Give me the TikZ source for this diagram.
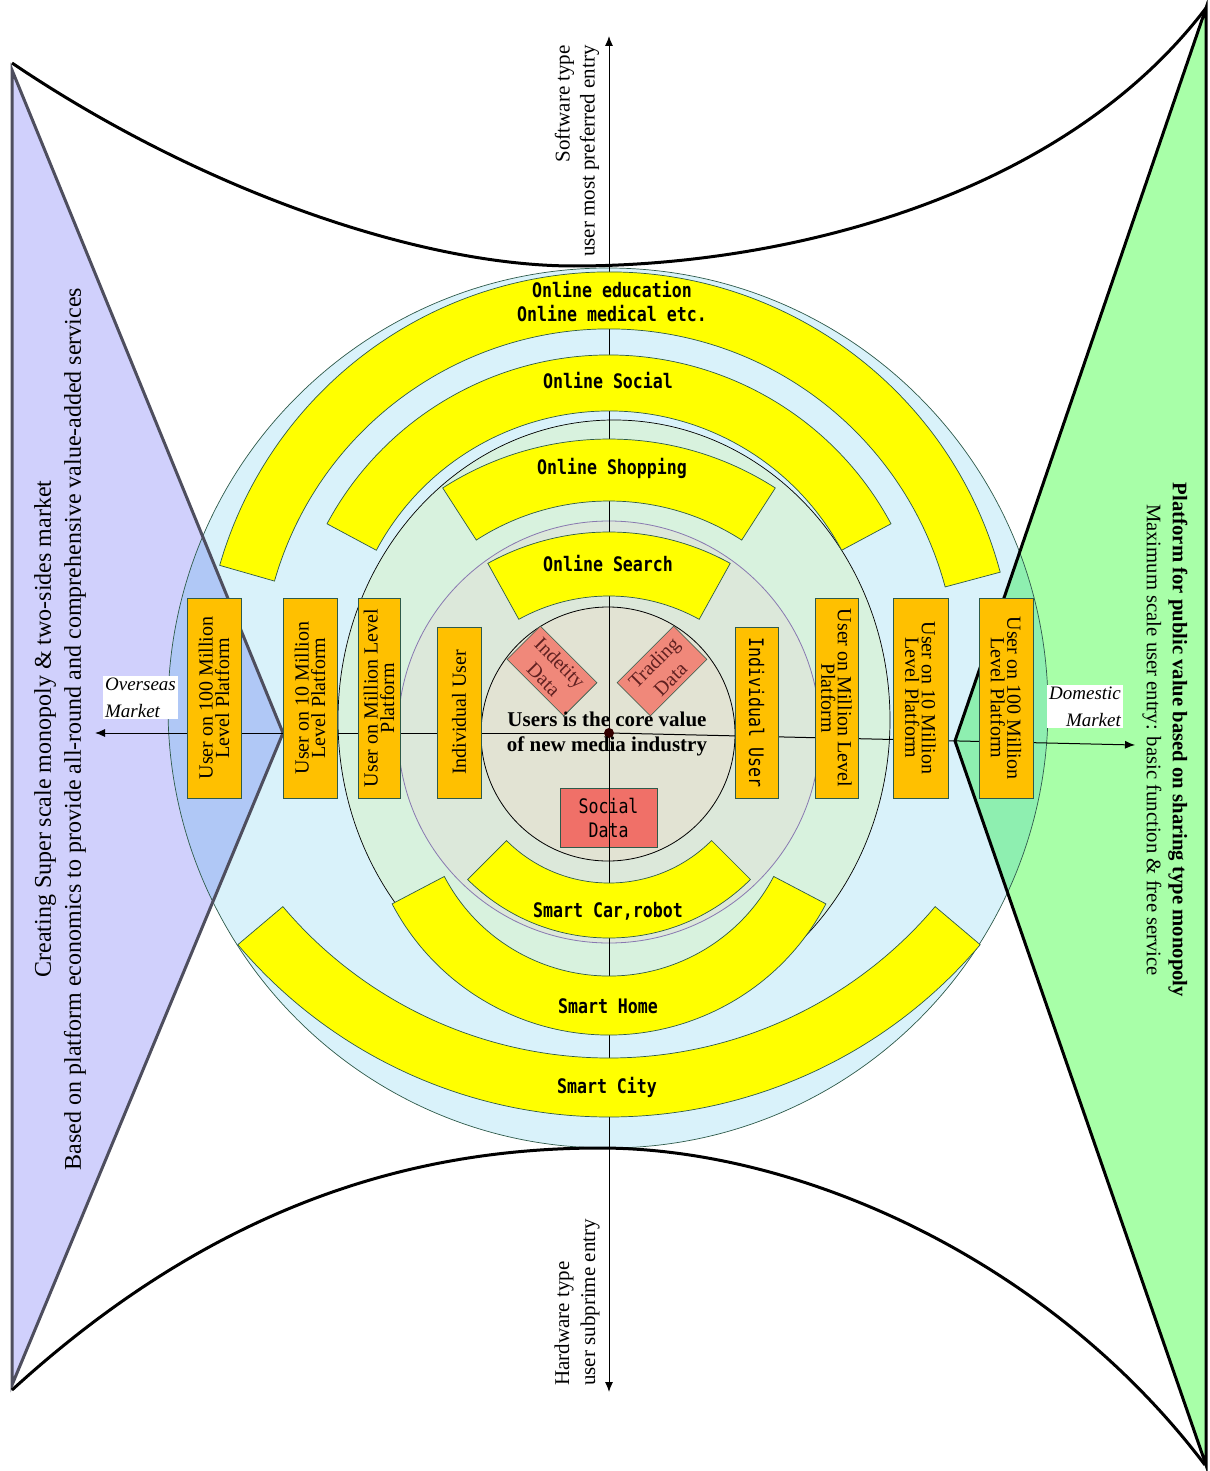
\documentclass[tikz,border=0pt]{standalone}
\usepackage{fontspec}
\setmainfont{Liberation Serif}
\newfontfamily\fontFascia{DejaVu Sans Mono}[FakeStretch=0.83]
\usetikzlibrary{arrows.meta, calc}
\definecolor{celeste}{HTML}{D9F2FA}
\definecolor{verdePallido}{HTML}{D8F2DE}
\definecolor{grigioVerde}{HTML}{DCE8DA}
\definecolor{beige}{HTML}{E2E3D3}
\definecolor{giallo}{RGB}{255,255,0}
\definecolor{arancio}{HTML}{FFC000}
\definecolor{rossoSocial}{HTML}{F07068}
\definecolor{salmone}{HTML}{F0887A}
\definecolor{lilla}{HTML}{D0D0FC}
\definecolor{verdino}{HTML}{A8FFA8}
\definecolor{lillaSopra}{HTML}{B0C8F6}
\definecolor{verdinoSopra}{HTML}{8EEFB0}
\definecolor{viola}{HTML}{8878B0}
\definecolor{bordo}{HTML}{2E5A4A}
\definecolor{bordoSx}{HTML}{4E4E5E}
\definecolor{testoDato}{HTML}{602020}
\newcommand{\fascia}[6]{
\filldraw[fascia] ($(#1,#2)+(#3:#5)$) arc[start angle = #3, end angle = #4, radius = #5] -- ($(#1,#2)+(#4:#6)$) arc[start angle = #4, end angle = #3, radius = #6] -- cycle;
}

\begin{document}
\begin{tikzpicture}[x = 1pt, y = -1pt,
    fascia/.style = {draw = bordo, fill = giallo, line width = 0.7pt},
    scatola/.style = {draw = bordo, fill = arancio, line width = 0.7pt, inner sep = 0pt, align = center, font = \fontsize{20}{16.5}\selectfont},
    dato/.style = {draw = bordo, fill = salmone, line width = 0.6pt, inner sep = 0pt, align = center, text = testoDato, minimum width = 80pt, minimum height = 47pt, font = \fontsize{20}{23}\selectfont},
    scritta/.style = {font = \fontFascia\bfseries\fontsize{20}{24}\selectfont, align = center},
    mercato/.style = {fill = white, inner sep = 2pt, font = \itshape\fontsize{19}{27}\selectfont},
    asse/.style = {line width = 1pt, -{Latex[length = 10pt, width = 8pt]}},
    curva/.style = {line width = 3pt}]
    \useasboundingbox (0,0) rectangle (1209,1471);
    % Punti
    \coordinate (o) at (609,733);
    \coordinate (nord) at (609,36);
    \coordinate (sud) at (609,1392);
    \coordinate (ovest) at (95,733);
    \coordinate (est) at (1135,745);
    % Triangoli
    \fill[lilla] (12,70) -- (283,733) -- (12,1385) -- cycle;
    \fill[verdino] (1206,8) -- (955,741) -- (1206,1465) -- cycle;
    % Cerchi
    \fill[celeste] (608,708) circle (440);
    \begin{scope}
        \clip (608,708) circle (440);
        \fill[lillaSopra] (12,70) -- (283,733) -- (12,1385) -- cycle;
        \fill[verdinoSopra] (1206,8) -- (955,741) -- (1206,1465) -- cycle;
    \end{scope}
    \draw[bordo, line width = 0.7pt] (608,708) circle (440);
    \filldraw[fill = verdePallido, draw = black, line width = 0.7pt] (614,720) ellipse [x radius = 276, y radius = 300];
    \filldraw[fill = grigioVerde, draw = viola, line width = 0.8pt] (609,732) circle (211);
    \filldraw[fill = beige, draw = black, line width = 0.8pt] (608,734) circle (127);
    % Bordi dei triangoli e curve
    \draw[bordoSx, line width = 3pt] (12,70) -- (283,733) -- (12,1385) -- cycle;
    \draw[black, line width = 3pt] (1206,8) -- (955,741) -- (1206,1465) -- cycle;
    \draw[curva] (12,63) .. controls (200,190) and (420,266) .. (574,266) .. controls (780,266) and (1060,200) .. (1206,8);
    \draw[curva] (12,1390) .. controls (220,1200) and (420,1148) .. (600,1148) .. controls (800,1148) and (1050,1260) .. (1205,1465);
    % Dati
    \node[dato, rotate = -45] (identita) at (552,671) {Indetity\\Data};
    \node[dato, rotate = 45] (scambi) at (662,671) {Trading\\Data};
    \node[draw = bordo, fill = rossoSocial, line width = 0.6pt, minimum width = 97pt, minimum height = 59pt, inner sep = 0pt, align = center, font = \fontFascia\fontsize{20}{24}\selectfont] (sociale) at (608.5,817.5) {Social\\Data};
    % Assi
    \draw[asse] (o) -- (nord);
    \draw[asse] (o) -- (sud);
    \draw[asse] (o) -- (ovest);
    \draw[asse] (o) -- (est);
    % Fasce gialle
    \fascia{609}{677}{-15}{-164}{405}{348}
    \fascia{609}{675}{-28.2}{-151.8}{320}{264}
    \fascia{609}{746}{-57.2}{-122.8}{307}{245}
    \fascia{609}{782}{-61}{-119}{250}{186}
    \fascia{609}{631}{40.2}{139.8}{486}{427}
    \fascia{609}{790}{27.7}{152.3}{245}{186}
    \fascia{609}{738}{45}{135}{200}{145}
    \node[scritta] (educazione) at (612,302) {Online education\\Online medical etc.};
    \node[scritta] (social) at (608,381) {Online Social};
    \node[scritta] (shopping) at (612,468) {Online Shopping};
    \node[scritta] (ricerca) at (608,564) {Online Search};
    \node[scritta] (auto) at (608,911) {Smart Car,robot};
    \node[scritta] (casa) at (608,1006) {Smart Home};
    \node[scritta] (citta) at (607,1087) {Smart City};
    % Utenti
    \node[scatola, rotate = 90, minimum width = 200pt, minimum height = 54pt] (centoSx) at (214,698) {User on 100 Million\\Level Platform};
    \node[scatola, rotate = 90, minimum width = 200pt, minimum height = 54pt] (dieciSx) at (310,698) {User on 10 Million\\Level Platform};
    \node[scatola, rotate = 90, minimum width = 200pt, minimum height = 42pt] (milioneSx) at (379,698) {User on Million Level\\Platform};
    \node[scatola, rotate = 90, minimum width = 171pt, minimum height = 44pt] (singoloSx) at (459,712.5) {Individual User};
    \node[scatola, rotate = -90, minimum width = 171pt, minimum height = 43pt, font = \fontFascia\fontsize{20}{24}\selectfont] (singoloDx) at (756.5,712.5) {Individual User};
    \node[scatola, rotate = -90, minimum width = 200pt, minimum height = 43pt] (milioneDx) at (836.5,698) {User on Million Level\\Platform};
    \node[scatola, rotate = -90, minimum width = 200pt, minimum height = 55pt] (dieciDx) at (920.5,698) {User on 10 Million\\Level Platform};
    \node[scatola, rotate = -90, minimum width = 200pt, minimum height = 54pt] (centoDx) at (1006,698) {User on 100 Million\\Level Platform};
    % Centro
    \fill[black!80!red] (o) circle (5);
    \node[align = center, font = \bfseries\fontsize{21}{25}\selectfont] (nucleo) at (607,733.5) {Users is the core value\\of new media industry};
    % Mercati
    \node[mercato, align = left] (estero) at (140.5,697.5) {Overseas\\Market};
    \node[mercato, align = right] (interno) at (1085,706.5) {Domestic\\Market};
    % Testi sugli assi
    \node[rotate = 90, anchor = east, align = right, inner sep = 0pt, font = \fontsize{21}{25}\selectfont] (software) at (577,45) {Software type\\user most preferred entry};
    \node[rotate = 90, anchor = west, align = left, inner sep = 0pt, font = \fontsize{21}{26}\selectfont] (hardware) at (577,1386) {Hardware type\\user subprime entry};
    % Testi laterali
    \node[rotate = 90, align = center, font = \fontsize{24}{30}\selectfont] (sinistra) at (60,729) {Creating Super scale monopoly \& two-sides market\\Based on platform economics to provide all-round and comprehensive value-added services};
    \node[rotate = -90, align = center, font = \fontsize{20.7}{26}\selectfont] (destra) at (1165,740) {\textbf{Platform for public value based on sharing type monopoly}\\Maximum scale user entry: basic function \& free service};
\end{tikzpicture}
\end{document}
